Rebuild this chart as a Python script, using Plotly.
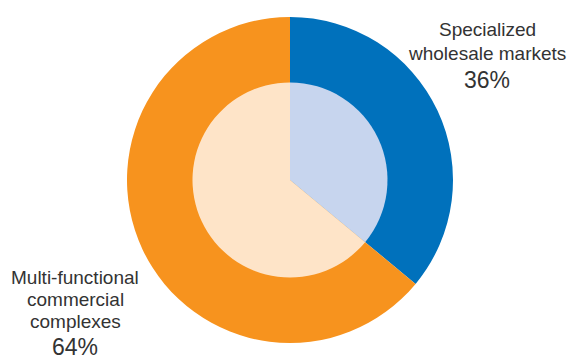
import plotly.graph_objects as go

# Market structure shares
categories = ["Specialized<br>wholesale markets", "Multi-functional<br>commercial<br>complexes"]
shares = [36, 64]
outer_colors = ["#0071BC", "#F7931E"]
inner_colors = ["#C7D5EE", "#FEE4C8"]

W, H = 569, 361
cx, cy = 290, 180
r_out, r_in = 163, 97.5


def domain(r):
    return dict(
        x=[(cx - r) / W, (cx + r) / W],
        y=[(H - cy - r) / H, (H - cy + r) / H],
    )


fig = go.Figure()
for r, cols in ((r_out, outer_colors), (r_in, inner_colors)):
    fig.add_trace(go.Pie(
        labels=categories,
        values=shares,
        sort=False,
        direction="clockwise",
        rotation=0,
        marker=dict(colors=cols, line=dict(width=0)),
        textinfo="none",
        hoverinfo="label+percent",
        domain=domain(r),
        showlegend=False,
    ))

label_font = dict(family="Liberation Sans, Arial, sans-serif", size=19, color="#333333")
pct_font = dict(family="Liberation Sans, Arial, sans-serif", size=23, color="#333333")

# label column centre x, first-line centre y, line step, percent centre y (pixels)
spots = [(487, 30, 23, 80), (75, 277, 22, 347)]
for name, val, (x, y0, step, y_pct) in zip(categories, shares, spots):
    for i, line in enumerate(name.split("<br>")):
        fig.add_annotation(text=line, x=x / W, y=1 - (y0 + i * step) / H,
                           xref="paper", yref="paper", showarrow=False,
                           font=label_font, borderpad=0,
                           xanchor="center", yanchor="middle")
    fig.add_annotation(text=f"{val}%", x=x / W, y=1 - y_pct / H, xref="paper", yref="paper",
                       showarrow=False, font=pct_font, borderpad=0,
                       xanchor="center", yanchor="middle")

fig.update_layout(
    width=W, height=H,
    margin=dict(l=0, r=0, t=0, b=0),
    paper_bgcolor="white",
    plot_bgcolor="white",
)

fig.write_html("out.html")
